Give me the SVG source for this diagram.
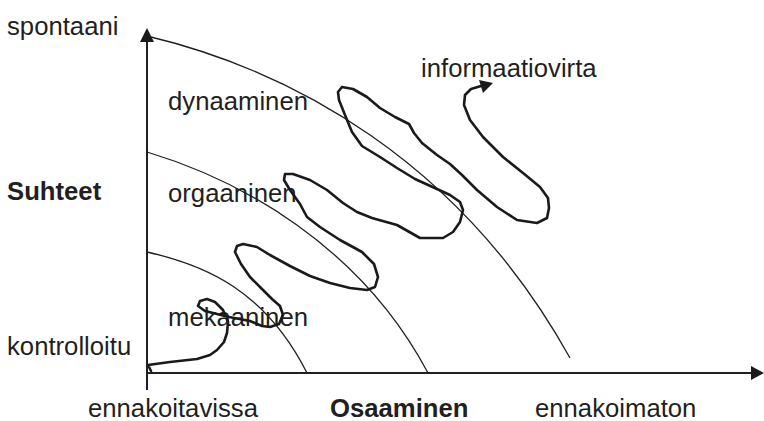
<svg xmlns="http://www.w3.org/2000/svg" width="764" height="421" viewBox="0 0 764 421">
<style>
text{font-family:"Liberation Sans",Arial,sans-serif;font-size:25.7px;fill:#231f20}
.b{font-weight:bold}
.axis{stroke:#231f20;stroke-width:2;fill:none}
.curve{stroke:#231f20;stroke-width:1.3;fill:none}
.flow{stroke:#1a1a1a;stroke-width:2.6;fill:none;stroke-linejoin:round;stroke-linecap:round}
.head{fill:#1a1a1a}
</style>
<rect width="764" height="421" fill="#fff"/>
<g id="axes">
<line class="axis" x1="147" y1="390" x2="147" y2="40"/>
<polygon class="head" points="147,28 140,42 154,42"/>
<line class="axis" x1="146" y1="373" x2="752" y2="373"/>
<polygon class="head" points="764,373 751,366 751,380"/>
</g>
<g id="curves">
<path class="curve" d="M147,36 C290,70 460,160 570,358"/>
<path class="curve" d="M147,152 C240,180 360,245 428,373"/>
<path class="curve" d="M147,252 C205,265 265,290 307,373"/>
</g>
<g id="labels">
<text x="7" y="35">spontaani</text>
<text class="b" x="7" y="200">Suhteet</text>
<text x="7" y="355">kontrolloitu</text>
<text x="168" y="110">dynaaminen</text>
<text x="168" y="202">orgaaninen</text>
<text x="168" y="326">mekaaninen</text>
<text x="421" y="77">informaatiovirta</text>
<text x="88" y="417">ennakoitavissa</text>
<text class="b" x="330" y="417">Osaaminen</text>
<text x="535" y="417">ennakoimaton</text>
</g>
<g id="informaatiovirta-flow">
<path class="flow" d="M151,371 L148,365 L170,362 L197,359 L210,355 L217,350 L224,342 L227,333 L228,322 L223,310 L215,302 L207,299 L200,301 L198,306 L205,311 L217,314 L229,317 L250,321 L262,326 L270,327 L279,324 L283,315 L280,306 L272,299 L263,290 L250,277 L241,264 L235,252 L237,246 L243,244 L257,247 L270,255 L290,266 L310,276 L330,283 L350,288 L367,290 L375,287 L378,277 L374,264 L362,252 L340,240 L320,227 L307,217 L300,204 L290,190 L284,180 L285,174 L293,174 L310,180 L327,190 L343,203 L357,212 L372,218 L397,225 L420,238 L443,238 L453,232 L460,222 L463,210 L460,202 L450,195 L437,189 L415,179 L397,168 L380,157 L362,146 L352,132 L345,115 L339,100 L338,92 L342,87 L353,89 L367,97 L380,108 L395,117 L409,124 L414,133 L422,143 L437,155 L450,164 L462,175 L477,190 L497,207 L517,220 L537,223 L547,218 L549,208 L548,198 L540,187 L523,173 L503,157 L483,137 L470,120 L464,105 L465,95 L471,89 L481,86"/>
<polygon class="head" points="479,80 493,83 483,93"/>
</g>
</svg>
